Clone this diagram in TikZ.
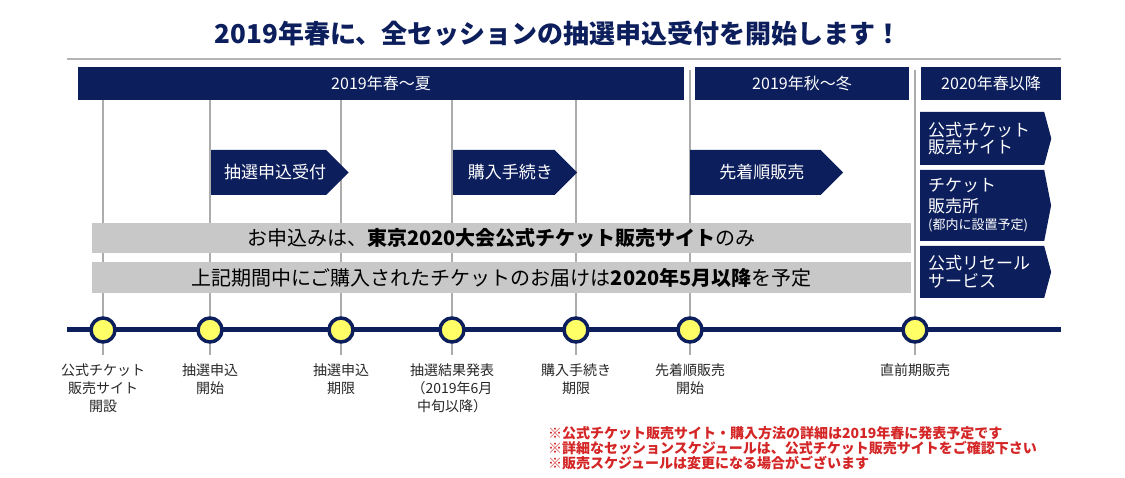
\documentclass[tikz,border=0pt]{standalone}
\usepackage{fontspec}
\setmainfont{Noto Sans CJK JP}
\usepackage{tikz}
\usetikzlibrary{shapes.symbols}
\usetikzlibrary{positioning}

\definecolor{navy}{RGB}{12,30,92}
\definecolor{barGray}{RGB}{200,200,200}
\definecolor{guideGray}{RGB}{172,172,172}
\definecolor{ruleGray}{RGB}{180,180,180}
\definecolor{dotYellow}{RGB}{255,255,102}
\definecolor{noteRed}{RGB}{212,38,38}

\tikzset{
  headline/.style={text=navy, inner sep=0pt, font=\fontsize{26pt}{30pt}\selectfont\bfseries},
  season/.style={fill=navy, text=white, minimum height=33pt, inner sep=0pt,
    font=\fontsize{16pt}{18pt}\selectfont},
  phase/.style={signal, signal to=east, signal pointer angle=90, fill=navy, text=white,
    minimum height=45pt, inner sep=0pt, anchor=west,
    execute at begin node=\hspace*{13pt}, font=\fontsize{17pt}{20pt}\selectfont},
  channel/.style={signal, signal to=east, fill=navy, text=white, anchor=west,
    align=left, text width=108pt, inner xsep=8pt, inner ysep=0pt,
    font=\fontsize{17pt}{17.5pt}\selectfont},
  notice/.style={fill=barGray, minimum width=819pt, minimum height=30.5pt, inner sep=0pt,
    font=\fontsize{20pt}{24pt}\selectfont},
  rule/.style={ruleGray, line width=2.5pt},
  guide/.style={guideGray, line width=2pt},
  track/.style={navy, line width=5pt},
  dot/.style={circle, fill=dotYellow, draw=navy, line width=3.5pt, minimum size=24pt, inner sep=0pt},
  event/.style={align=center, text=black!85, inner sep=0pt, below=20pt of #1,
    font=\fontsize{14pt}{18pt}\selectfont},
  notes/.style={align=left, text=noteRed, inner sep=0pt, anchor=north west,
    font=\fontsize{14pt}{15pt}\selectfont\bfseries},
}

\begin{document}
\begin{tikzpicture}[x=1pt,y=-1pt]
  \useasboundingbox (0,0) rectangle (1125,478);

  \node[headline] (title) at (558,34) {2019年春に、全セッションの抽選申込受付を開始します！};
  \coordinate (ruleleft) at (67,59);
  \coordinate (ruleright) at (1061,59);
  \draw[rule] (ruleleft) -- (ruleright);

  % season headers
  \node[season, minimum width=606pt] (spring) at (381,83.5) {2019年春～夏};
  \node[season, minimum width=214pt] (autumn) at (802,83.5) {2019年秋～冬};
  \node[season, minimum width=140pt] (later) at (991,83.5) {2020年春以降};

  % ticks on the time line
  \coordinate (t1) at (103,330);
  \coordinate (t2) at (210,330);
  \coordinate (t3) at (341,330);
  \coordinate (t4) at (452,330);
  \coordinate (t5) at (576,330);
  \coordinate (t6) at (690,330);
  \coordinate (t7) at (915,330);

  \draw[guide] (spring.south -| t1) -- ([yshift=-25pt]t1);
  \draw[guide] (spring.south -| t2) -- ([yshift=-25pt]t2);
  \draw[guide] (spring.south -| t3) -- ([yshift=-25pt]t3);
  \draw[guide] (spring.south -| t4) -- ([yshift=-25pt]t4);
  \draw[guide] (spring.south -| t5) -- ([yshift=-25pt]t5);
  \draw[guide] ([yshift=-3pt]spring.north -| t6) -- ([yshift=-25pt]t6);
  \draw[guide] ([yshift=-3pt]spring.north -| t7) -- ([yshift=-25pt]t7);

  % notices
  \node[notice] (applynote) at (501.5,238)
    {お申込みは、\textbf{東京2020大会公式チケット販売サイト}のみ};
  \node[notice] (deliverynote) at (501.5,277.5)
    {上記期間中にご購入されたチケットのお届けは\textbf{2020年5月以降}を予定};

  % phases
  \node[phase, minimum width=132pt] (lottery) at (211,172.5) {抽選申込受付};
  \node[phase, minimum width=124pt] (payment) at (453,172.5) {購入手続き};
  \node[phase, minimum width=153pt] (firstcome) at (690,172.5) {先着順販売};

  \node[channel, minimum height=53pt, signal pointer angle=150] (website) at (920,138.5)
    {公式チケット\\販売サイト};
  \node[channel, minimum height=71pt, signal pointer angle=158] (counter) at (920,205.5)
    {チケット\\[3pt]販売所\\{\fontsize{13pt}{15pt}\selectfont (都内に設置予定)}};
  \node[channel, minimum height=52pt, signal pointer angle=150] (resale) at (920,272)
    {公式リセール\\サービス};

  % time line
  \coordinate (trackstart) at (67,330);
  \coordinate (trackend) at (1061,330);
  \draw[track] (trackstart) -- (trackend);

  \node[dot] (siteopen) at (t1) {};
  \node[dot] (lotopen) at (t2) {};
  \node[dot] (lotclose) at (t3) {};
  \node[dot] (results) at (t4) {};
  \node[dot] (paydue) at (t5) {};
  \node[dot] (fcfsopen) at (t6) {};
  \node[dot] (lastsale) at (t7) {};

  \node[event=siteopen] (sitelabel) {公式チケット\\販売サイト\\開設};
  \node[event=lotopen] (lotopenlabel) {抽選申込\\開始};
  \node[event=lotclose] (lotcloselabel) {抽選申込\\期限};
  \node[event=results] (resultslabel) {抽選結果発表\\（2019年6月\\中旬以降）};
  \node[event=paydue] (paydoelabel) {購入手続き\\期限};
  \node[event=fcfsopen] (fcfslabel) {先着順販売\\開始};
  \node[event=lastsale] (lastlabel) {直前期販売};

  \node[notes] (remarks) at (548,426)
    {※公式チケット販売サイト・購入方法の詳細は2019年春に発表予定です\\
     ※詳細なセッションスケジュールは、公式チケット販売サイトをご確認下さい\\
     ※販売スケジュールは変更になる場合がございます};
\end{tikzpicture}
\end{document}
